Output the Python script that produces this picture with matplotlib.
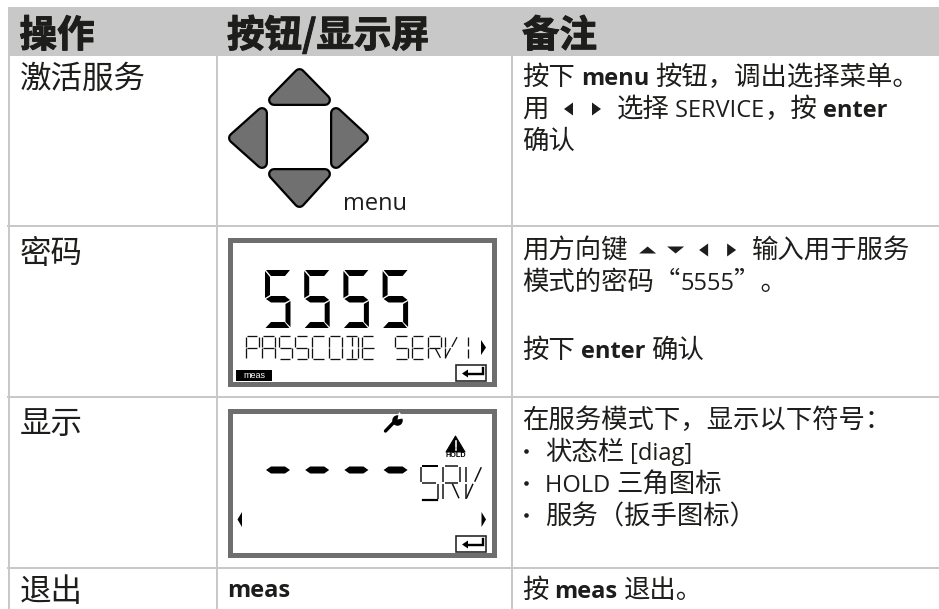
import re
import matplotlib
matplotlib.use('Agg')
import matplotlib.pyplot as plt
import matplotlib.patheffects as pe
from matplotlib.patches import Polygon, Rectangle

plt.rcParams['font.family'] = ['Open Sans', 'Noto Sans CJK SC']

# 表格文字
headers = ['操作', '按钮/显示屏', '备注']
actions = ['激活服务', '密码', '显示', '退出']
notes_row1 = ['按下 **menu** 按钮，调出选择菜单。', '用 ◂▸ 选择 SERVICE，按 **enter**', '确认']
notes_row2 = ['用方向键 ▴▾◂▸ 输入用于服务', '模式的密码“5555”。']
notes_row2b = ['按下 **enter** 确认']
notes_row3 = ['在服务模式下，显示以下符号：']
bullets_row3 = ['状态栏 [diag]', 'HOLD 三角图标', '服务（扳手图标）']
notes_row4 = ['按 **meas** 退出。']
lcd_big = '5555'
lcd_line = 'PASSCODE SERVI'
lcd_service = 'SRV'

TEXT = '#1d1d1b'
RULE = '#c8c8c8'
FRAME = '#6e6e6e'
KEY = '#707070'

fig = plt.figure(figsize=(9.39, 6.09), dpi=100)
ax = fig.add_axes([0, 0, 1, 1])
ax.set_xlim(0, 939)
ax.set_ylim(609, 0)
ax.axis('off')
renderer = fig.canvas.get_renderer()
px = 0.72  # 1像素对应的磅数


def measure(s, **kw):
    # 两端加竖线，这样空格也能量到
    a = ax.text(0, 0, '|' + s + '|', **kw)
    b = ax.text(0, 0, '||', **kw)
    w = a.get_window_extent(renderer).width - b.get_window_extent(renderer).width
    a.remove()
    b.remove()
    return w


def icon(cx, cy, kind):
    shapes = {
        '◂': [(4.5, -6.5), (4.5, 6.5), (-4.5, 0)],
        '▸': [(-4.5, -6.5), (-4.5, 6.5), (4.5, 0)],
        '▴': [(-8.5, 3.5), (8.5, 3.5), (0, -3.5)],
        '▾': [(-8.5, -3.5), (8.5, -3.5), (0, 3.5)],
    }
    ax.add_patch(Polygon([(cx + p, cy + q) for p, q in shapes[kind]], fc=TEXT, ec='none'))


def rich_line(x, y, line):
    # **粗体**，西文用 Open Sans，中文用 Noto Sans CJK
    bold = False
    for chunk in line.split('**'):
        for part in re.findall(r'[\x20-\x7e]+|[◂▸▴▾]|[^\x20-\x7e◂▸▴▾]+', chunk):
            if part in '◂▸▴▾':
                icon(x + 14, y - 8, part)
                x += 28
                continue
            if part[0].isascii():
                kw = dict(family=['Open Sans', 'Noto Sans CJK SC'], fontsize=17)
            else:
                kw = dict(family=['Noto Sans CJK SC', 'DejaVu Sans'], fontsize=19)
            kw['fontweight'] = 'bold' if bold else 'normal'
            kw['color'] = TEXT
            ax.text(x, y, part, va='baseline', ha='left', **kw)
            x += measure(part, **kw)
        bold = not bold


def big_digit(x0, y0):
    # 七段数码管的 5
    segs = [
        [(1, 0), (25, 0), (20, 6), (6, 6)],
        [(0, 1), (5, 7), (5, 25), (0, 28)],
        [(1, 29), (6, 26), (20, 26), (25, 30), (20, 32.5), (6, 32.5)],
        [(25.5, 31), (25.5, 57), (20.5, 52), (20.5, 34)],
        [(0.5, 58), (6, 52), (19.5, 52), (24.5, 58)],
    ]
    for s in segs:
        ax.add_patch(Polygon([(x0 + p, y0 + q) for p, q in s], fc='black', ec='none'))


SEG = {
    'a': [(.1, 0), (.9, 0)], 'd': [(.1, 1), (.9, 1)],
    'f': [(0, .04), (0, .47)], 'b': [(1, .04), (1, .47)],
    'e': [(0, .53), (0, .96)], 'c': [(1, .53), (1, .96)],
    'g': [(.08, .5), (.92, .5)],
    't': [(.5, .06), (.5, .45)], 'u': [(.5, .55), (.5, .94)],
    'k': [(.55, .47), (.95, .05)], 'l': [(.55, .53), (.95, .95)],
    'm': [(.05, .95), (.45, .53)],
}
CHARS = {
    'P': 'afebg', 'A': 'afbecg', 'S': 'afgcd', 'C': 'afed', 'O': 'abcdef',
    'D': 'abcdtu', 'E': 'afedg', 'R': 'abfegl', 'V': 'fekm', 'I': 'tu', ' ': '',
}


def seg_char(ch, x0, y0, w, h, lw):
    for name in CHARS[ch]:
        (x1, y1), (x2, y2) = SEG[name]
        ax.plot([x0 + x1 * w, x0 + x2 * w], [y0 + y1 * h, y0 + y2 * h], color='#111111',
                lw=lw * px, solid_capstyle='butt')


def enter_key(y0):
    ax.add_patch(Rectangle((455.5, y0), 30.5, 16, fc='white', ec='#222222', lw=1.6 * px))
    ax.plot([466, 483, 483], [y0 + 9, y0 + 9, y0 + 3.5], color='black', lw=2.4 * px,
            solid_joinstyle='miter')
    ax.add_patch(Polygon([(462, y0 + 9), (468, y0 + 5), (468, y0 + 13)], fc='black', ec='none'))


def lcd_frame(y0, y1):
    ax.add_patch(Rectangle((229.5, y0 + 2.5), 264, y1 - y0 - 5, fc='white', ec=FRAME, lw=5 * px))


# 表头和网格线
ax.add_patch(Rectangle((8, 7), 931, 49, fc=RULE, ec='none'))
for x in [9, 217, 511.5]:
    ax.plot([x, x], [56, 609], color=RULE, lw=2 * px)
for y in [225.5, 397, 568]:
    ax.plot([8, 939], [y, y], color=RULE, lw=2 * px)

for x, label in zip([19.5, 227, 522], headers):
    ax.text(x, 47, label, fontsize=27, fontweight='bold', color=TEXT, va='baseline',
            family=['Noto Sans CJK SC', 'DejaVu Sans'],
            path_effects=[pe.withStroke(linewidth=0.7, foreground=TEXT)])
for y, label in zip([88, 263, 433, 601], actions):
    ax.text(19.5, y, label, fontsize=22.7, color=TEXT, va='baseline',
            family=['Noto Sans CJK SC', 'DejaVu Sans'])

# 方向键
keys = [
    [(299.5, 74), (274, 100), (325, 100)],
    [(234, 138), (262, 113), (262, 163)],
    [(363, 138), (336, 113), (336, 163)],
    [(299.5, 202), (274, 174), (325, 174)],
]
for pts in keys:
    ax.add_patch(Polygon(pts, fc='black', ec='black', lw=12 * px, joinstyle='round'))
    ax.add_patch(Polygon(pts, fc=KEY, ec=KEY, lw=7.5 * px, joinstyle='round'))
ax.text(343, 210, 'menu', fontsize=17, color=TEXT, va='baseline', family=['Open Sans'])

# 第一个显示屏
lcd_frame(237, 386)
for i, d in enumerate(lcd_big):
    big_digit(265 + 39.2 * i, 270)
for i, ch in enumerate(lcd_line):
    cx = 245.5 + 16.6 * i
    if ch == 'I':
        cx = 461.5
    seg_char(ch, cx, 336, 13, 23, 1.3)
ax.add_patch(Polygon([(481, 340), (481, 355), (486, 347.5)], fc='black', ec='none'))
ax.add_patch(Rectangle((236, 370), 36, 11, fc='black', ec='none'))
ax.text(254, 375.5, 'meas', fontsize=6.5, color='white', ha='center', va='center',
        family=['Liberation Sans'])
enter_key(364.5)

# 第二个显示屏
lcd_frame(408, 557)
for i in range(4):
    x0 = 266 + 39.2 * i
    ax.add_patch(Polygon([(x0, 470), (x0 + 5, 466.5), (x0 + 19, 466.5), (x0 + 24, 470),
                          (x0 + 19, 473.5), (x0 + 5, 473.5)], fc='black', ec='none'))
for i, ch in enumerate(lcd_service):
    seg_char(ch, 421 + 22.3 * i, 465.5, 16.5, 34.5, 1.5)
ax.plot([423, 437], [499.5, 499.5], color='black', lw=2.2 * px)
ax.plot([423, 437], [465.5, 465.5], color='black', lw=2 * px)
# 扳手
ax.plot([385.5, 396], [431, 420], color='black', lw=3.4 * px, solid_capstyle='round')
ax.plot([397], [419.5], 'o', color='black', ms=10.5 * px, mew=0)
ax.add_patch(Polygon([(397.5, 419.5), (399, 412), (405, 418)], fc='white', ec='none', zorder=3))
# HOLD 三角
ax.add_patch(Polygon([(455.5, 436), (446, 452), (465, 452)], fc='black', ec='black', lw=1 * px,
                     joinstyle='round'))
ax.plot([455.5, 455.5], [441, 447], color='white', lw=1.6 * px)
ax.plot([455.5, 455.5], [448.5, 450], color='white', lw=1.6 * px)
ax.text(455.5, 455.5, 'HOLD', fontsize=5.2, fontweight='bold', color='black', ha='center', va='center',
        family=['Liberation Sans'])
ax.add_patch(Polygon([(242, 512), (242, 527), (237.5, 519.5)], fc='black', ec='none'))
ax.add_patch(Polygon([(481.5, 512), (481.5, 527), (486, 519.5)], fc='black', ec='none'))
enter_key(535.5)

# 'meas' 行
ax.text(227, 597, 'meas', fontsize=17, fontweight='bold', color=TEXT, va='baseline', family=['Open Sans'])

# 备注列
for y, line in zip([85, 117, 149], notes_row1):
    rich_line(522, y, line)
for y, line in zip([258, 290], notes_row2):
    rich_line(522, y, line)
for y, line in zip([358], notes_row2b):
    rich_line(522, y, line)
for y, line in zip([428], notes_row3):
    rich_line(522, y, line)
for y, line in zip([460, 492, 524], bullets_row3):
    ax.plot([525.5], [y - 9], 'o', color=TEXT, ms=4.6 * px, mew=0)
    rich_line(545, y, line)
for y, line in zip([598], notes_row4):
    rich_line(522, y, line)

fig.savefig('out.png', dpi=100)
